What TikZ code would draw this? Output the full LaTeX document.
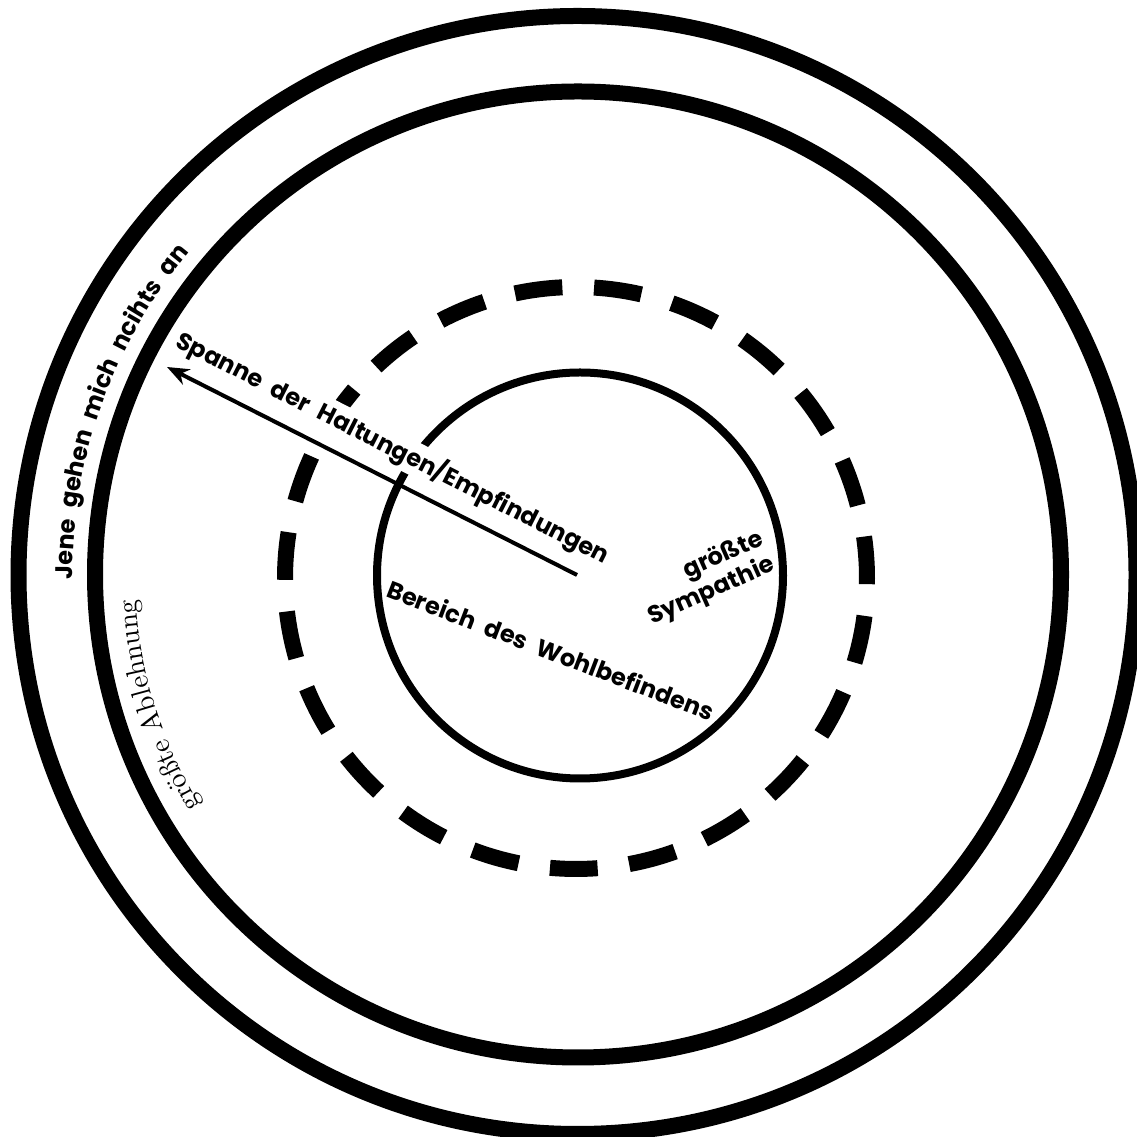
\documentclass[tikz,border=0pt]{standalone}
\usepackage{fontspec}
\newfontfamily\comicfont{Poppins}[WordSpace=2.2]
\newfontfamily\lmten{lmroman10-regular}[Extension=.otf]
\usetikzlibrary{arrows.meta,decorations.text}
\begin{document}
\begin{tikzpicture}[x=1pt,y=1pt,
  ring/.style={line width=16pt},
  dashring/.style={line width=16pt},
  innerring/.style={line width=8pt},
  comic/.style={font=\comicfont\bfseries\fontsize{24}{28}\selectfont},
  arrowline/.style={line width=4pt,-{Stealth[length=22pt,width=17pt,inset=7pt]}},
]
\clip (0,0) rectangle (1137,1137);
\coordinate (c1) at (577.5,562);
\coordinate (c2) at (578,562.5);
\coordinate (cd) at (576,559);
\coordinate (c3) at (580,561.5);
\coordinate (ctr) at (577,562);
\coordinate (tip) at (167,770);
% rings
\draw[ring] (c1) circle[radius=559];
\draw[ring] (c2) circle[radius=483];
\foreach \k in {0,...,22}{
  \pgfmathsetmacro{\sa}{160+15.6522*\k-4.7}
  \draw[dashring] ([shift={(\sa:291)}]cd) arc[start angle=\sa, delta angle=9.4, radius=291];
}
\draw[innerring] (c3) circle[radius=203];
% labels
\node[comic, fill=white, inner sep=2pt, rotate=-26.9] (span) at (393,689) {Spanne der Haltungen/Empfindungen};
\draw[arrowline] (ctr) -- (tip);
\node[comic, rotate=-21] (wohl) at (551,487) {Bereich des Wohlbefindens};
\node[comic, rotate=24, align=right] (sym) at (706,558) {größte\\Sympathie};
\path[decorate, decoration={text along path, text={|\comicfont\bfseries\fontsize{24}{28}\selectfont|Jene gehen mich ncihts an}}]
  ([shift={(180.5:505)}]c1) arc[start angle=180.5, end angle=120, radius=505];
\path[decorate, decoration={text along path, text={|\lmten\fontsize{28}{30}\selectfont|größte Ablehnung}}]
  ([shift={(211.5:442)}]c1) arc[start angle=211.5, end angle=170, radius=442];
\end{tikzpicture}
\end{document}
